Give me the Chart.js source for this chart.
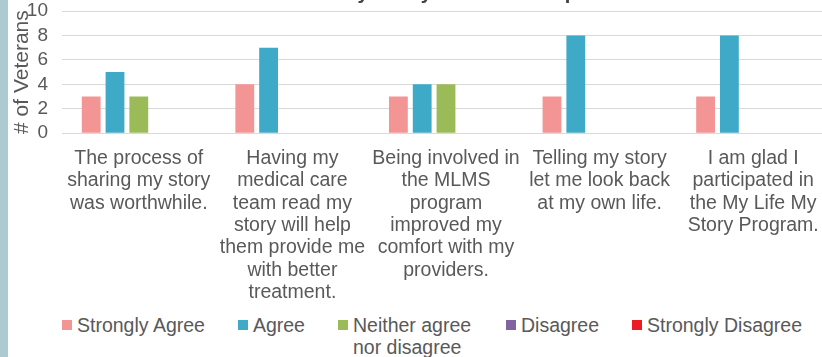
<!DOCTYPE html>
<html>
<head>
<meta charset="utf-8">
<script src="https://cdn.jsdelivr.net/npm/chart.js@4.4.1/dist/chart.umd.min.js"></script>
<style>
  html, body { margin:0; padding:0; background:#fff; }
  body { width:822px; height:357px; overflow:hidden; position:relative;
         font-family:"Liberation Sans", Arial, sans-serif; }
  .strip { position:absolute; left:0; top:0; width:8px; height:357px; background:#adc9d1; z-index:2; }
  /* plot runs a little past the right edge */
  .wrap { position:absolute; left:0; top:-19px; width:830px; height:323px; }
  #legend { position:absolute; left:62px; top:314px; display:flex; gap:33px;
            font-size:19.5px; line-height:22px; color:#595959; }
  #legend .item { display:flex; align-items:flex-start; }
  #legend .box { width:10px; height:10px; margin:6px 5px 0 0; flex:none; }
  #legend .txt.wrapped { max-width:120px; }
</style>
</head>
<body>
<div class="strip"></div>
<div class="wrap"><canvas id="chart"></canvas></div>
<div id="legend"></div>
<script>
// statements on the x axis, one array of lines each
const statements = [
  ['The process of', 'sharing my story', 'was worthwhile.'],
  ['Having my', 'medical care', 'team read my', 'story will help', 'them provide me', 'with better', 'treatment.'],
  ['Being involved in', 'the MLMS', 'program', 'improved my', 'comfort with my', 'providers.'],
  ['Telling my story', 'let me look back', 'at my own life.'],
  ['I am glad I', 'participated in', 'the My Life My', 'Story Program.']
];
const responses = ['Strongly Agree', 'Agree', 'Neither agree nor disagree', 'Disagree', 'Strongly Disagree'];
const colors    = ['#f39595', '#3faac7', '#9bbb59', '#8064a2', '#ed1c24'];

// counts per response, in statement order
const stronglyAgree    = [3, 4, 3, 3, 3];
const agree            = [5, 7, 4, 8, 8];
const neither          = [3, 0, 4, 0, 0];
const disagree         = [0, 0, 0, 0, 0];
const stronglyDisagree = [0, 0, 0, 0, 0];

const yTicks = [0, 2, 4, 6, 8, 10];

const series = [stronglyAgree, agree, neither, disagree, stronglyDisagree];
const gray = '#595959';
const FONT = '"Liberation Sans", Arial, sans-serif';
const LINE_H = 22.4, LABEL_PAD = 6;
const maxLines = Math.max(...statements.map(s => s.length));

new Chart(document.getElementById('chart'), {
  type: 'bar',
  data: {
    labels: statements,
    datasets: series.map((d, i) => ({
      label: responses[i], data: d, backgroundColor: colors[i],
      borderWidth: 0, categoryPercentage: 0.775, barPercentage: 0.79
    }))
  },
  options: {
    responsive: true, maintainAspectRatio: false, animation: false,
    layout: { padding: 0 },
    plugins: {
      legend: { display: false },
      tooltip: { enabled: false },
      title: {
        display: true,
        text: 'Veteran Survey: Story Worth and Impact',
        color: '#404040',
        font: { family: FONT, size: 20, weight: 'bold', lineHeight: 1.2 },
        padding: { top: 0, bottom: 6 }
      }
    },
    scales: {
      x: {
        // room for the tallest wrapped label, no side padding
        afterFit: s => {
          s.height = LABEL_PAD + maxLines * LINE_H + 8;
          s.paddingLeft = 0; s.paddingRight = 0;
        },
        grid: { display: false },
        border: { display: false },
        ticks: {
          color: gray, maxRotation: 0, autoSkip: false, padding: LABEL_PAD,
          font: { family: FONT, size: 19.5, lineHeight: LINE_H / 19.5 }
        }
      },
      y: {
        min: 0, max: 10,
        afterFit: s => { s.width = 62; },
        afterBuildTicks: s => { s.ticks = yTicks.map(v => ({ value: v })); },
        grid: { color: '#d9d9d9', lineWidth: 1, drawTicks: false },
        border: { display: false },
        ticks: {
          color: gray, padding: 14, autoSkip: false,
          font: { family: FONT, size: 19 }
        },
        title: {
          display: true, text: '# of Veterans', color: gray,
          font: { family: FONT, size: 21, lineHeight: 1.2 },
          padding: { top: 10, bottom: 0 }
        }
      }
    }
  }
});

// legend below the plot
const legend = document.getElementById('legend');
responses.forEach((name, i) => {
  const item = document.createElement('div');
  item.className = 'item';
  const box = document.createElement('span');
  box.className = 'box';
  box.style.background = colors[i];
  const txt = document.createElement('span');
  txt.className = 'txt' + (name.length > 20 ? ' wrapped' : '');
  txt.textContent = name;
  item.append(box, txt);
  legend.appendChild(item);
});
</script>
</body>
</html>
